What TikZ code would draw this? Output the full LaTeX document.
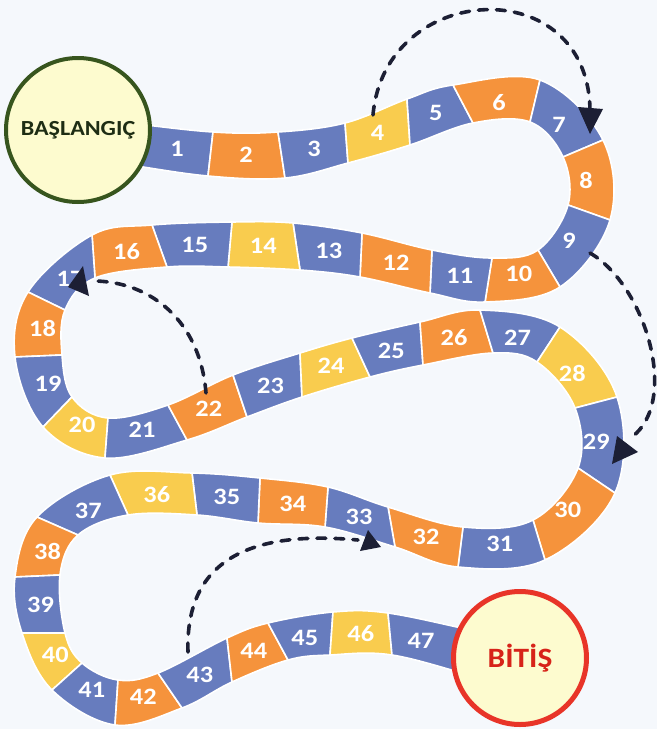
\documentclass[tikz,border=0pt]{standalone}
\usepackage{fontspec}
\setmainfont{Carlito}[FakeStretch=1.12]
\usetikzlibrary{calc}
\definecolor{cB}{RGB}{103,124,190}
\definecolor{cO}{RGB}{245,147,60}
\definecolor{cY}{RGB}{249,204,78}
\definecolor{bgc}{RGB}{245,248,252}
\definecolor{circfill}{RGB}{253,251,207}
\definecolor{startgreen}{RGB}{55,85,30}
\definecolor{starttext}{RGB}{30,45,20}
\definecolor{endred}{RGB}{232,52,40}
\definecolor{endtext}{RGB}{215,35,25}
\definecolor{arrowcol}{RGB}{28,31,52}
\begin{document}
\begin{tikzpicture}[x=1pt,y=-1pt,
  cell/.style={draw=white,line width=1.6pt,line join=round},
  num/.style={text=white,font=\fontsize{23.5}{24}\selectfont\bfseries,inner sep=0pt},
  jump/.style={draw=arrowcol,line width=3.6pt,dash pattern=on 9pt off 9pt,line cap=round},
  tipfill/.style={fill=arrowcol},
  goal/.style={circle,fill=circfill,font=\bfseries,inner sep=0pt}]
\fill[bgc] (0,0) rectangle (657,729);
\useasboundingbox (0,0) rectangle (657,729);
% boundary points: L = left of direction of travel, R = right
\foreach \n/\lx/\ly/\rx/\ry in {
 -1/27/112/26/150,
 0/120/122/117/163, 1/213/132/208/176, 2/278/132/285/178, 3/345/123/348/163,
 4/407/99/410/145, 5/453/85/473/123, 6/540/80/530/122, 7/603/140/563/157,
 8/610/220/568/205, 9/560/287/538/250, 10/485/302/492/258, 11/430/293/432/250,
 12/360/277/362/233, 13/300/270/293/223, 14/228/267/232/222, 15/167/267/152/225,
 16/95/278/92/235, 17/65/310/28/292, 18/62/355/15/357, 19/72/397/43/427,
 20/108/418/105/458, 21/168/405/187/440, 22/233/375/247/417, 23/300/353/302/397,
 24/352/338/370/377, 25/420/322/423/365, 26/480/310/493/353, 27/560/327/537/362,
 28/617/397/575/408, 29/615/493/578/468, 30/545/560/533/520, 31/458/567/463/527,
 32/395/547/388/507, 33/325/527/328/487, 34/258/523/260/478, 35/197/515/192/473,
 36/128/515/110/475, 37/78/535/37/517, 38/60/575/15/577, 39/65/633/22/633,
 40/82/663/52/690, 41/118/680/115/725, 42/158/673/182/708, 43/227/638/232/682,
 44/268/623/288/660, 45/333/612/330/655, 46/388/613/392/655, 47/480/632/480/678,
 48/572/651/568/701}{
  \coordinate (L\n) at (\lx,\ly);
  \coordinate (R\n) at (\rx,\ry);
}
% cells (edges as Catmull-Rom curves through the boundary points)
\foreach \i/\c in {1/cB,2/cO,3/cB,4/cY,5/cB,6/cO,7/cB,8/cO,9/cB,10/cO,
 11/cB,12/cO,13/cB,14/cY,15/cB,16/cO,17/cB,18/cO,19/cB,20/cY,
 21/cB,22/cO,23/cB,24/cY,25/cB,26/cO,27/cB,28/cY,29/cB,30/cO,
 31/cB,32/cO,33/cB,34/cO,35/cB,36/cY,37/cB,38/cO,39/cB,40/cY,
 41/cB,42/cO,43/cB,44/cO,45/cB,46/cY,47/cB}{
  \pgfmathtruncatemacro{\j}{\i-1}
  \pgfmathtruncatemacro{\k}{\i-2}
  \pgfmathtruncatemacro{\m}{\i+1}
  \filldraw[cell,fill=\c] (L\j)
    .. controls ($(L\j)+0.1667*(L\i)-0.1667*(L\k)$) and ($(L\i)-0.1667*(L\m)+0.1667*(L\j)$) .. (L\i)
    -- (R\i)
    .. controls ($(R\i)-0.1667*(R\m)+0.1667*(R\j)$) and ($(R\j)+0.1667*(R\i)-0.1667*(R\k)$) .. (R\j)
    -- cycle;
}
% numbers
\foreach \i in {2,...,46}{
  \pgfmathtruncatemacro{\j}{\i-1}
  \node[num] (n\i) at ($0.25*(L\j)+0.25*(L\i)+0.25*(R\i)+0.25*(R\j)$) {\i};
}
\node[num] (n1) at (177,149) {1};
\node[num] (n47) at (421,641) {47};
% start / end
\node[goal,draw=startgreen,line width=4pt,minimum size=144pt,text=starttext,
  font=\fontsize{21.5}{22}\selectfont\bfseries] (start) at (78,130) {BAŞLANGIÇ};
\node[goal,draw=endred,line width=5pt,minimum size=133pt,text=endtext,
  font=\fontsize{28}{28}\selectfont\bfseries] (finish) at (520,658) {BİTİŞ};
% jumps
\coordinate (j1s) at (373,115); \coordinate (j1e) at (590,112);
\draw[jump] (j1s) .. controls (385,-20) and (590,-30) .. (j1e);
\fill[tipfill] (590,134) -- (578,107) -- (603,109) -- cycle;
\coordinate (j2s) at (590,253); \coordinate (j2e) at (632,437);
\draw[jump] (j2s) .. controls (645,285) and (680,400) .. (j2e);
\fill[tipfill] (638,452) -- (617,436) -- (612,464) -- cycle;
\coordinate (j3s) at (206,393); \coordinate (j3e) at (95,281);
\draw[jump] (j3s) .. controls (200,320) and (150,282) .. (j3e);
\fill[tipfill] (83,266) -- (89,296) -- (68,287) -- cycle;
\coordinate (j4s) at (188,652); \coordinate (j4e) at (358,540);
\draw[jump] (j4s) .. controls (185,560) and (250,530) .. (j4e);
\fill[tipfill] (381,547) -- (368,530) -- (360,551) -- cycle;
\end{tikzpicture}
\end{document}
